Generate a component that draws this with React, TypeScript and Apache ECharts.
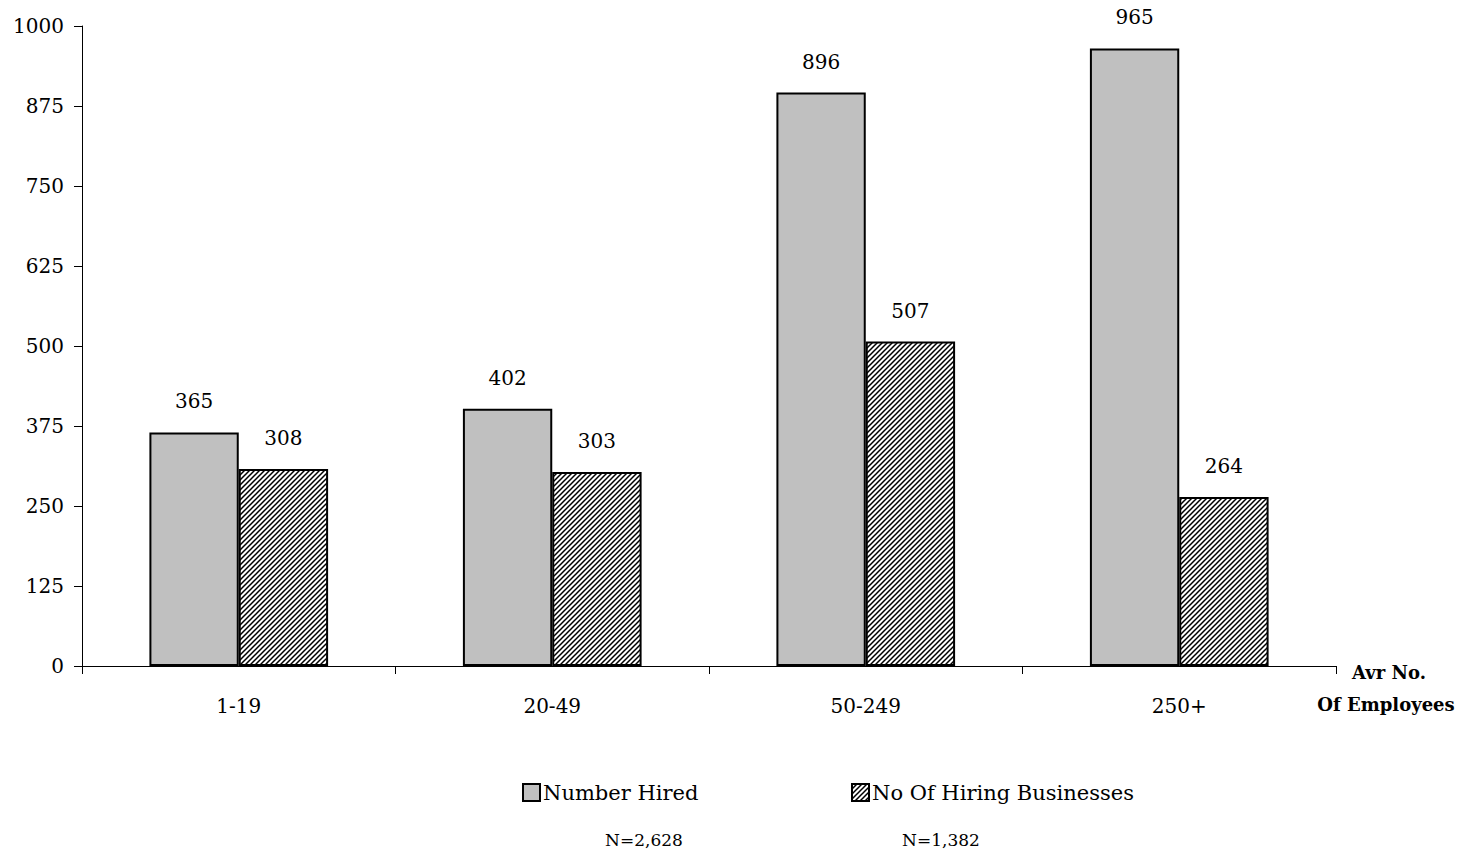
import React, { useEffect, useRef } from "react";
import * as echarts from "echarts";

const categories = ["1-19", "20-49", "50-249", "250+"];
const numberHired = [365, 402, 896, 965];
const hiringBusinesses = [308, 303, 507, 264];
const seriesNames = ["Number Hired", "No Of Hiring Businesses"];
const sampleSizes = ["N=2,628", "N=1,382"];
const axisTitle = ["Avr No.", "Of Employees"];

const FONT = "'DejaVu Serif', 'Liberation Serif', serif";

// Small tile of forward-slash diagonals used as the bar fill pattern.
function makeHatch(): HTMLCanvasElement {
  const s = 5;
  const c = document.createElement("canvas");
  c.width = s;
  c.height = s;
  const ctx = c.getContext("2d")!;
  ctx.fillStyle = "#ffffff";
  ctx.fillRect(0, 0, s, s);
  ctx.strokeStyle = "#000000";
  ctx.lineWidth = 1.5;
  ctx.beginPath();
  ctx.moveTo(-1, s + 1);
  ctx.lineTo(s + 1, -1);
  ctx.moveTo(-1, 1);
  ctx.lineTo(1, -1);
  ctx.moveTo(s - 1, s + 1);
  ctx.lineTo(s + 1, s - 1);
  ctx.stroke();
  return c;
}

export default function App() {
  const ref = useRef<HTMLDivElement>(null);

  useEffect(() => {
    if (!ref.current) return;
    const chart = echarts.init(ref.current, null, { renderer: "svg" });
    const hatch = { image: makeHatch(), repeat: "repeat" as const };

    const labelStyle = {
      show: true,
      position: "top" as const,
      distance: 21,
      color: "#000",
      fontFamily: FONT,
      fontSize: 20,
    };

    const legendBase = {
      top: 777,
      itemWidth: 17,
      itemHeight: 17,
      itemGap: 0,
      icon: "rect",
      selectedMode: false,
      textStyle: { fontFamily: FONT, fontSize: 21, color: "#000", padding: [0, 0, 0, -2] },
    };

    chart.setOption({
      animation: false,
      backgroundColor: "#ffffff",
      textStyle: { fontFamily: FONT, color: "#000" },
      grid: { left: 82, right: 133, top: 26, bottom: 185, containLabel: false },
      legend: [
        { ...legendBase, data: [seriesNames[0]], left: 517 },
        { ...legendBase, data: [seriesNames[1]], left: 846 },
      ],
      xAxis: {
        type: "category",
        data: categories,
        axisLine: { show: true, lineStyle: { color: "#000", width: 1 } },
        axisTick: { show: true, length: 8, lineStyle: { color: "#000" } },
        axisLabel: { margin: 30, fontFamily: FONT, fontSize: 20, color: "#000" },
      },
      yAxis: {
        type: "value",
        min: 0,
        max: 1000,
        interval: 125,
        axisLine: { show: true, lineStyle: { color: "#000", width: 1 } },
        axisTick: { show: true, length: 8, lineStyle: { color: "#000" } },
        axisLabel: {
          margin: 18,
          fontFamily: FONT,
          fontSize: 20,
          color: "#000",
          formatter: (v: number) => String(v),
        },
        splitLine: { show: false },
      },
      series: [
        {
          name: seriesNames[0],
          type: "bar",
          data: numberHired,
          barGap: "0%",
          barCategoryGap: "43%",
          itemStyle: { color: "#c0c0c0", borderColor: "#000", borderWidth: 2 },
          label: labelStyle,
        },
        {
          name: seriesNames[1],
          type: "bar",
          data: hiringBusinesses,
          itemStyle: { color: hatch, borderColor: "#000", borderWidth: 2 },
          label: labelStyle,
        },
      ],
      graphic: [
        {
          type: "text",
          x: 1389,
          y: 672,
          style: {
            text: axisTitle[0],
            font: `bold 18px ${FONT}`,
            fill: "#000",
            align: "center",
            verticalAlign: "middle",
          },
        },
        {
          type: "text",
          x: 1386,
          y: 704,
          style: {
            text: axisTitle[1],
            font: `bold 18px ${FONT}`,
            fill: "#000",
            align: "center",
            verticalAlign: "middle",
          },
        },
        {
          type: "text",
          x: 644,
          y: 840,
          style: {
            text: sampleSizes[0],
            font: `17px ${FONT}`,
            fill: "#000",
            align: "center",
            verticalAlign: "middle",
          },
        },
        {
          type: "text",
          x: 941,
          y: 840,
          style: {
            text: sampleSizes[1],
            font: `17px ${FONT}`,
            fill: "#000",
            align: "center",
            verticalAlign: "middle",
          },
        },
      ],
    });

    return () => chart.dispose();
  }, []);

  return <div ref={ref} style={{ width: 1469, height: 851, position: "absolute", left: 0, top: 0 }} />;
}
